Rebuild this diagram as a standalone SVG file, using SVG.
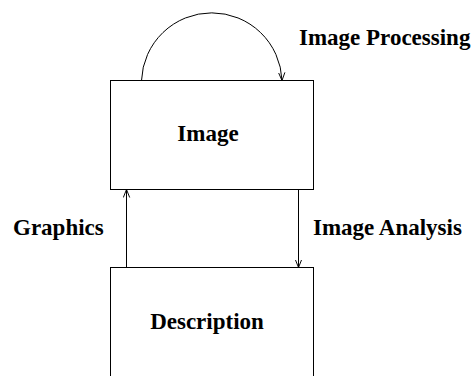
<svg xmlns="http://www.w3.org/2000/svg" width="475" height="376" viewBox="0 0 475 376">
<style>
.box{fill:none;stroke:#000;stroke-width:1}
.lbl{font-family:"Liberation Serif","Times New Roman",serif;font-weight:bold;font-size:23px;fill:#000}
.edge{fill:none;stroke:#000;stroke-width:1}
</style>
<defs>
<marker id="ah" viewBox="0 0 10 10" refX="10" refY="5" markerWidth="8" markerHeight="8" markerUnits="userSpaceOnUse" orient="auto">
<path d="M0,1 L10,5 L0,9" fill="none" stroke="#000" stroke-width="1.2"/>
</marker>
</defs>
<rect width="475" height="376" fill="#fff"/>
<g id="node-image">
<rect class="box" x="110.5" y="80.5" width="203" height="109"/>
<text class="lbl" x="208" y="141" text-anchor="middle">Image</text>
</g>
<g id="node-description">
<rect class="box" x="110.5" y="267.5" width="203" height="112"/>
<text class="lbl" x="207" y="329" text-anchor="middle">Description</text>
</g>
<g id="connectors">
<path class="edge" d="M141.5,80.5 A70.3,70.3 0 0 1 282,80.5" marker-end="url(#ah)"/>
<path class="edge" d="M126.5,267.5 L126.5,189.5" marker-end="url(#ah)"/>
<path class="edge" d="M298.5,189.5 L298.5,267.5" marker-end="url(#ah)"/>
<text class="lbl" x="299" y="45">Image Processing</text>
<text class="lbl" x="13" y="235">Graphics</text>
<text class="lbl" x="313" y="235">Image Analysis</text>
</g>
</svg>
